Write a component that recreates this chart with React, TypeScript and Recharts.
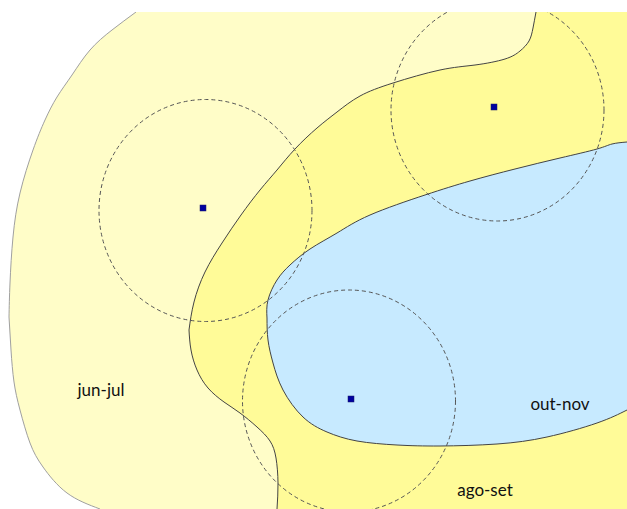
import { Area, ComposedChart, LabelList, Line, Scatter, XAxis, YAxis } from 'recharts';

const WIDTH = 627;
const HEIGHT = 509;
const TOP = 12;

const junJulUpper = [[9, 317], [10, 283], [13, 237], [20, 193], [33, 150], [45, 120], [57, 97], [72, 75], [90, 50], [112, 30], [136, 12]];
const junJulLower = [[9, 317], [11, 350], [14, 382], [20, 410], [30, 443], [43, 467], [67, 493], [100, 509]];
const agoSetUpper = [[189, 330], [194, 302], [205, 272], [222, 243], [241, 215], [260, 190], [277, 170], [295, 149], [317, 128], [337, 112], [360, 96], [393, 83], [440, 70], [475, 65], [505, 59], [520, 51], [529, 41], [533, 28], [536, 12]];
const agoSetLower = [[189, 330], [191, 350], [197, 370], [208, 388], [224, 402], [240, 413], [257, 427], [270, 441], [276, 458], [278, 483], [277, 509]];
const outNovUpper = [[267, 318], [268, 300], [277, 280], [290, 265], [310, 249], [337, 233], [370, 215], [425, 195], [470, 181], [515, 169], [560, 158], [597, 149], [612, 144], [627, 142]];
const outNovLower = [[267, 318], [268, 340], [273, 363], [283, 390], [303, 417], [327, 432], [357, 441], [397, 445], [440, 446], [497, 444], [547, 437], [597, 423], [627, 410]];

const stations = [
  { x: 203, y: 208 },
  { x: 494, y: 107 },
  { x: 351, y: 399 },
];
const rings = [
  { x: 205.5, y: 210.5 },
  { x: 497.5, y: 110 },
  { x: 349, y: 401 },
];
const periodLabels = [
  { x: 101, y: 390, name: 'jun-jul' },
  { x: 560, y: 404, name: 'out-nov' },
  { x: 485, y: 490, name: 'ago-set' },
];
const topStrip = [{ x: 0, y: 0 }];

const toRows = (points: number[][]) =>
  points.map(([x, y]) => ({ x, y, band: [y, HEIGHT] }));

const PALE = '#FFFDC8';
const YELLOW = '#FFFB98';
const BLUE = '#C7EAFF';
const OUTLINE = '#444444';

const renderRing = ({ cx, cy }: any) => (
  <ellipse cx={cx} cy={cy} rx={106.5} ry={111} fill="none" stroke="#555" strokeWidth={1} strokeDasharray="4 3" />
);

const renderStation = ({ cx, cy }: any) => (
  <rect x={cx - 3} y={cy - 3} width={6} height={6} fill="#0000A0" stroke="#1a1a66" strokeWidth={0.5} />
);

// white band above the drawing, the top ring is cut off there
const renderStrip = ({ cx, cy }: any) => (
  <rect x={cx} y={cy} width={WIDTH} height={TOP} fill="#FFFFFF" />
);

const fillArea = (key: string, rows: any[], fill: string, type: any = 'natural') => (
  <Area
    key={key}
    data={rows}
    dataKey="band"
    type={type}
    fill={fill}
    fillOpacity={1}
    stroke="none"
    dot={false}
    activeDot={false}
    isAnimationActive={false}
  />
);

const outline = (key: string, rows: any[], stroke: string) => (
  <Line
    key={key}
    data={rows}
    dataKey="y"
    type="natural"
    stroke={stroke}
    strokeWidth={1}
    dot={false}
    activeDot={false}
    isAnimationActive={false}
  />
);

export default function App() {
  return (
    <div style={{ position: 'absolute', left: 0, top: 0 }}>
      <ComposedChart width={WIDTH} height={HEIGHT} margin={{ top: 0, right: 0, bottom: 0, left: 0 }}>
        <XAxis dataKey="x" type="number" domain={[0, WIDTH]} hide />
        <YAxis dataKey="y" type="number" domain={[0, HEIGHT]} reversed hide />

        {fillArea('pale', toRows(junJulUpper), PALE)}
        {fillArea('pale-rest', toRows([[136, TOP], [WIDTH, TOP]]), PALE, 'linear')}
        {fillArea('corner', toRows(junJulLower), '#FFFFFF')}
        {fillArea('yellow', toRows(agoSetUpper), YELLOW)}
        {fillArea('yellow-rest', toRows([[536, TOP], [WIDTH, TOP]]), YELLOW, 'linear')}
        {fillArea('blue', toRows(outNovUpper), BLUE)}
        {fillArea('blue-cover', toRows(outNovLower), YELLOW)}
        {fillArea('pale-cover', toRows(agoSetLower), PALE)}

        {outline('line-jun-upper', toRows(junJulUpper), '#a0a0a0')}
        {outline('line-jun-lower', toRows(junJulLower), '#a0a0a0')}
        {outline('line-ago-upper', toRows(agoSetUpper), OUTLINE)}
        {outline('line-ago-lower', toRows(agoSetLower), OUTLINE)}
        {outline('line-out-upper', toRows(outNovUpper), OUTLINE)}
        {outline('line-out-lower', toRows(outNovLower), OUTLINE)}

        <Scatter data={rings} shape={renderRing} isAnimationActive={false} />
        <Scatter data={topStrip} shape={renderStrip} isAnimationActive={false} />
        <Scatter data={stations} shape={renderStation} isAnimationActive={false} />
        <Scatter data={periodLabels} shape={() => <g />} isAnimationActive={false}>
          <LabelList dataKey="name" position="center" fill="#111" fontSize={17} fontFamily="'Comic Sans MS', Lato, 'Noto Sans', sans-serif" />
        </Scatter>
      </ComposedChart>
    </div>
  );
}
